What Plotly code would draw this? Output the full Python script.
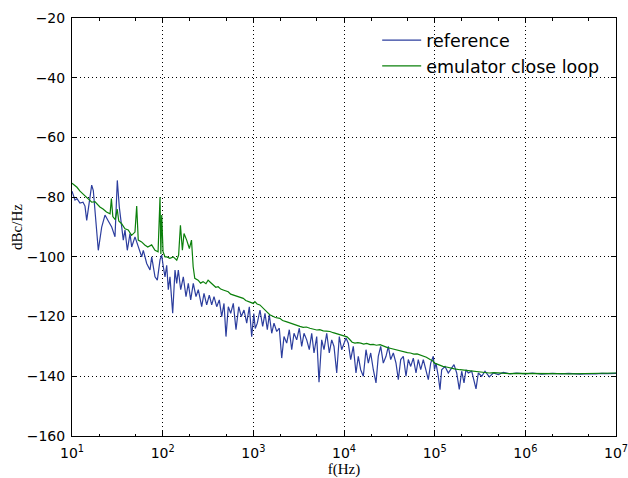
import plotly.graph_objects as go

# ---- data ----
ref_freq = [10, 10.79, 11.35, 12.25, 13.22, 13.91, 14.53, 15.13, 16.49, 17.18, 17.93, 19.5, 21.26,
            23.12, 24.95, 27.41, 29.81, 31.6, 33.24, 35.33, 36.8, 38.41, 40.73, 43.62, 45.54,
            49.53, 53.85, 58.72, 61.15, 66.67, 72.5, 75.7, 82.3, 87.3, 93.5, 97.6, 101.6,
            106.1, 110.8, 115.4, 120.4, 129, 136.8, 142.8, 148.8, 158.1, 168.9, 180.9, 191.8,
            203.8, 217.6, 233.1, 247.2, 269.5, 285.7, 305.9, 326.8, 347.4, 368.3, 394.5,
            421.3, 447.7, 474.8, 499.4, 529.6, 562.8, 601.2, 644, 689.9, 736.9, 788.9, 845.3,
            902.8, 959.2, 1012, 1050,
            1106, 1184, 1268, 1345, 1426, 1500, 1595, 1690, 1811, 1934, 2056, 2179, 2333,
            2493, 2650, 2809, 3008, 3214, 3415, 3622, 3879, 4143, 4403, 4670, 5000, 5302,
            5675, 6018, 6447, 6885, 7317, 7757, 8311, 8875, 9432, 10070,
            10520, 11150, 11850, 12660, 13560, 14380, 15280, 16330, 17490, 18540, 19700,
            21050, 22540, 23890, 25400, 27130, 29060, 30820, 32740, 34990, 37460, 39720,
            42220, 45100, 48290, 51200, 54420, 58130, 62240, 65980, 70150, 74930, 80250,
            85090, 90430, 96600,
            99570, 103400, 109600, 114500, 119500, 130000, 141300, 154100, 163400, 175000,
            186900, 198700, 210700, 221600, 234900, 256100, 285700, 302900, 330200, 359100,
            400500, 443400, 503400, 571400, 677200, 803000, 1000000,
            1200000, 1500000, 2000000, 2500000, 3000000, 4000000, 5000000, 6000000,
            7000000, 8000000, 10000000]
ref_db = [-78, -81, -80.5, -82, -81.7, -83, -87.8, -84.4, -76, -77.8, -85.5, -97.8, -90,
          -86, -87.8, -90, -93.3, -74.4, -83.3, -90, -94.4, -91, -97.8, -92.2, -96.7,
          -93.3, -96.7, -100, -97.8, -102.2, -104.4, -100, -106.7, -107.8, -101, -99.4, -103.3,
          -106.7, -102.8, -111, -106.7, -118.9, -104.4, -108.9, -104.4, -111, -106.7, -113.3, -108.9,
          -114.4, -108.9, -113.3, -111, -116.7, -112.2, -116.1, -112.8, -116.1, -113.3, -116.7,
          -114.4, -120, -115.6, -126.7, -116.7, -118.9, -115.6, -124.4, -116.7, -120, -117.8, -122.2,
          -116.7, -126.7, -119, -124,
          -122.2, -117.8, -123.3, -118.9, -124.4, -119.4, -125.6, -122.2, -125, -123.9, -133.9, -126.7, -128.9,
          -124.4, -131.1, -125.6, -127.8, -123.9, -130, -125.6, -127.8, -131.1, -125.6, -132.2, -126.7, -142,
          -127.8, -131.1, -125.6, -132.2, -127.8, -130, -138.9, -126.7, -131.1, -128.3,
          -127.2, -128.9, -134.4, -130, -138.9, -133.3, -137.8, -140, -131.1, -135.6, -132.2,
          -137.8, -142.2, -133.3, -130, -135.6, -133.3, -130, -134.4, -132.2, -135.6, -141.1,
          -134.4, -133.3, -140, -134.4, -136.7, -133.9, -138.9, -134.4, -137.8, -134.4, -138.3,
          -141.1, -135.6, -133.3,
          -137.8, -135.6, -140, -144.5, -137.8, -136.7, -138.9, -137.2, -136.1, -138.9,
          -144.4, -138.3, -142.2, -137.8, -138.9, -138.3, -144.2, -138.9, -140, -138.3,
          -140.2, -138.9, -139.4, -138.7, -139.2, -138.9, -139.2,
          -138.9, -139.3, -139.0, -139.2, -139.0, -139.3, -139.1, -139.2,
          -139.0, -139.1, -139.0]

emu_freq = [10, 10.79, 11.35, 12.25, 13.22, 14.5, 15.1, 16.5, 17.9, 18.7, 19.5, 20.3, 22, 24,
            26.3, 27.2, 28.2, 30, 31.5, 32.8, 35.3, 38.4, 41.7, 45.4, 49.5, 51.7, 53.8, 58.6,
            63.5, 68.5, 75.6, 82.3, 89, 93.5, 95.5, 97.6, 101,
            106.1, 111, 120, 131, 143, 150, 157, 165, 172, 184, 197, 208, 217, 226, 246, 262,
            279, 300, 317, 335, 360, 385, 409, 437, 465, 495, 528, 562, 600, 640, 681, 725,
            774, 825, 880, 940, 1000,
            1040, 1100, 1180, 1270, 1350, 1430, 1520, 1630, 1750, 1960, 2100, 2300, 2530, 2750,
            3000, 3260, 3550, 3850, 4200, 4600, 5000, 5400, 5900, 6400, 7000, 7600, 8300,
            9000, 9600, 10200,
            10800, 11500, 12300, 13200, 14200, 15300, 16500, 17800, 19400, 21000, 22800, 25000,
            27300, 29700, 32200, 35000, 38300, 42000, 45800, 50000, 54000, 59000, 64000, 69000,
            75000, 81000, 89000, 95000, 100000,
            104000, 110000, 118000, 123000, 135000, 146000, 165000, 190000, 215000, 246000,
            280000, 320000, 360000, 400000, 450000, 500000, 580000, 670000, 780000, 900000, 1000000,
            1200000, 1500000, 2000000, 2500000, 3000000, 4000000, 5000000, 6000000, 7000000,
            8000000, 10000000]
emu_db = [-75.3, -76, -76.7, -78, -79, -80, -80.5, -81.7, -81.5, -82.2, -82.5, -83.3, -84, -85,
          -85.6, -80.5, -86.5, -87.5, -84, -88, -88.9, -90.6, -91, -92.8, -91.7, -83, -94.4, -95,
          -96, -96.7, -96, -97.8, -98.3, -80, -99, -86, -98.3,
          -100, -100, -100.5, -100, -101.1, -99.4, -89.4, -97.8, -92.2, -94.4, -97.2, -94.4, -103.3, -107.2, -107.8, -108.8,
          -108.3, -109, -107.8, -108.5, -109.4, -110.2, -110, -110.8, -111.1, -111.5, -111.7, -112.5, -112.8, -113, -113.3, -113.6,
          -113.9, -114.6, -115, -115.2, -115.6,
          -115, -115.8, -116.1, -117.2, -118, -118.6, -119.4, -119.8, -120.3, -120.6, -121.3, -121.7, -122.2, -122.6,
          -123.1, -123.3, -123.6, -123.5, -123.9, -124.2, -124.5, -124.4, -124.8, -124.9, -125, -125.4, -125.8,
          -126.1, -126.4, -126.7,
          -126.8, -127.6, -128.6, -128.9, -128.7, -128.9, -129.2, -129.0, -129.4, -129.3, -129.6, -129.4,
          -130.0, -130.3, -130.6, -130.9, -131.3, -131.7, -131.8, -132.1, -132.2, -132.6, -132.5, -132.8,
          -133.2, -133.6, -134.4, -134.8, -135.6,
          -135.8, -136.1, -136.4, -136.7, -136.9, -137.2, -137.5, -137.8, -138.0, -138.3,
          -138.5, -138.7, -138.8, -138.9, -138.8, -138.9, -139.0, -139.1, -139.0, -139.0, -138.9,
          -139.0, -139.1, -139.0, -139.1, -139.2, -139.1, -139.0, -139.1, -139.0,
          -139.0, -138.9]

x_tickvals = [10, 100, 1000, 10000, 100000, 1000000, 10000000]
x_ticktext = ["10<sup>1</sup>", "10<sup>2</sup>", "10<sup>3</sup>", "10<sup>4</sup>",
              "10<sup>5</sup>", "10<sup>6</sup>", "10<sup>7</sup>"]
y_tickvals = [-160, -140, -120, -100, -80, -60, -40, -20]

fig = go.Figure()
fig.add_trace(go.Scatter(x=ref_freq, y=ref_db, mode="lines", name="reference",
                         line=dict(color="#2c3e9e", width=1.2), legendgroup="a"))
fig.add_trace(go.Scatter(x=emu_freq, y=emu_db, mode="lines", name="emulator close loop",
                         line=dict(color="#0b800b", width=1.2), legendgroup="b"))

axis_common = dict(showline=True, linecolor="black", linewidth=1, mirror="ticks",
                   ticks="inside", tickcolor="black", ticklen=5, tickwidth=1,
                   showgrid=True, gridcolor="black", gridwidth=0.7, griddash="1px,3px",
                   zeroline=False, automargin=False, ticklabeloverflow="allow",
                   tickfont=dict(family="DejaVu Sans", size=14, color="black"))

fig.update_xaxes(type="log", range=[1, 7], tickvals=x_tickvals, ticktext=x_ticktext,
                 minor=dict(ticks="inside", ticklen=2.5, tickcolor="black", showgrid=False),
                 ticklabelstandoff=4,
                 title=dict(text="f(Hz)", font=dict(family="Liberation Serif", size=15, color="black"),
                            standoff=2),
                 **axis_common)
fig.update_yaxes(range=[-160, -20], tickvals=y_tickvals,
                 ticklabelstandoff=3,
                 title=dict(text="dBc/Hz", font=dict(family="Liberation Serif", size=15, color="black"),
                            standoff=0),
                 **axis_common)

fig.update_layout(
    width=628, height=478,
    margin=dict(l=72, r=12, t=18, b=42, autoexpand=False),
    paper_bgcolor="white", plot_bgcolor="white",
    showlegend=True,
    legend=dict(x=0.561, y=0.99, xanchor="left", yanchor="top", itemwidth=39,
                bgcolor="rgba(0,0,0,0)", borderwidth=0, tracegroupgap=0,
                font=dict(family="DejaVu Sans", size=17.5, color="black")),
)

# remove the page's default body margin so the figure fills the window exactly
fig.write_html("out.html", config={"displayModeBar": False},
               post_script="document.body.style.margin='0';")
